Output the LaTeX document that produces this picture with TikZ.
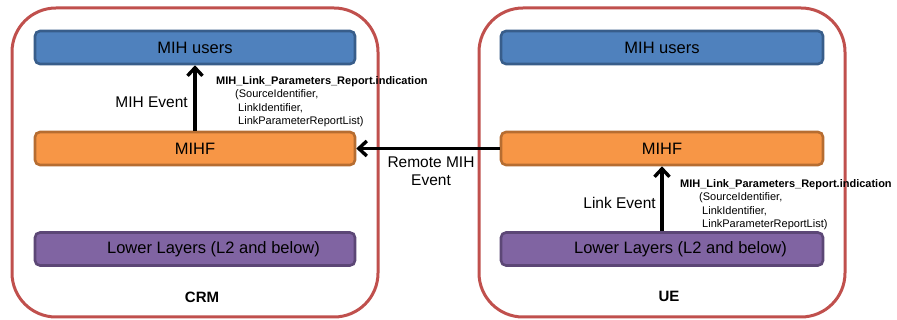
\documentclass[tikz,border=0pt]{standalone}
\usepackage{fontspec}
\setmainfont{Liberation Sans}
\usetikzlibrary{arrows.meta}
\definecolor{outerred}{HTML}{C0504D}
\definecolor{usersfill}{HTML}{4F81BD}
\definecolor{usersdraw}{HTML}{385D8A}
\definecolor{mihffill}{HTML}{F79646}
\definecolor{mihfdraw}{HTML}{B66D31}
\definecolor{lowerfill}{HTML}{8064A2}
\definecolor{lowerdraw}{HTML}{5C4776}
\tikzset{
  outerbox/.style={draw=outerred, line width=3pt, fill=white, rounded corners=44pt,
    minimum width=366pt, minimum height=309pt, inner sep=0pt},
  layerbox/.style={line width=2.6pt, rounded corners=5pt, minimum height=33pt,
    inner sep=0pt, font=\fontsize{16.5}{19}\selectfont},
  usersbox/.style={layerbox, draw=usersdraw, fill=usersfill},
  mihfbox/.style={layerbox, draw=mihfdraw, fill=mihffill},
  lowerbox/.style={layerbox, draw=lowerdraw, fill=lowerfill},
  arr/.style={line width=3.4pt, -{Straight Barb[length=8pt,width=15pt]}},
  lbl/.style={font=\fontsize{15.5}{18}\selectfont, inner sep=0pt, align=center},
  small/.style={font=\fontsize{11}{13.5}\selectfont, inner sep=0pt, align=left, anchor=north west},
  title/.style={font=\fontsize{15}{18}\selectfont\bfseries, inner sep=0pt}
}
\begin{document}
\begin{tikzpicture}[x=1pt,y=-1pt]
\useasboundingbox (0,0) rectangle (897,320);
% outer containers
\node[outerbox] (crm) at (195,162.5) {};
\node[outerbox] (ue) at (662,162.5) {};
% left stack
\node[usersbox, minimum width=320pt] (lusers) at (195,47.5) {MIH users};
\node[mihfbox, minimum width=320pt] (lmihf) at (195,148.5) {MIHF};
\node[lowerbox, minimum width=320pt] (llower) at (195,249) {\hspace*{37pt}Lower Layers (L2 and below)};
% right stack
\node[usersbox, minimum width=322pt] (rusers) at (662,47.5) {MIH users};
\node[mihfbox, minimum width=322pt] (rmihf) at (662,148.5) {MIHF};
\node[lowerbox, minimum width=322pt] (rlower) at (662,249) {\hspace*{37pt}Lower Layers (L2 and below)};
% titles
\node[title] (crmlbl) at (202,297) {CRM};
\node[title] (uelbl) at (669,296) {UE};
% arrows
\draw[arr] (lmihf.north) -- (lusers.south);
\draw[arr] (rlower.north) -- (rmihf.south);
\draw[arr] (rmihf.west) -- (lmihf.east);
% labels
\node[lbl, anchor=east] (mihev) at (188,102) {MIH Event};
\node[lbl, anchor=east] (linkev) at (656,203) {Link Event};
\node[lbl] (remote) at (431,171) {Remote MIH\\Event};
\node[small] (lparams) at (216,76) {\textbf{MIH\_Link\_Parameters\_Report.indication}\\
  \hspace*{19pt}(SourceIdentifier,\\
  \hspace*{22pt}LinkIdentifier,\\
  \hspace*{22pt}LinkParameterReportList)};
\node[small] (rparams) at (680,179) {\textbf{MIH\_Link\_Parameters\_Report.indication}\\
  \hspace*{19pt}(SourceIdentifier,\\
  \hspace*{22pt}LinkIdentifier,\\
  \hspace*{22pt}LinkParameterReportList)};
\end{tikzpicture}
\end{document}
